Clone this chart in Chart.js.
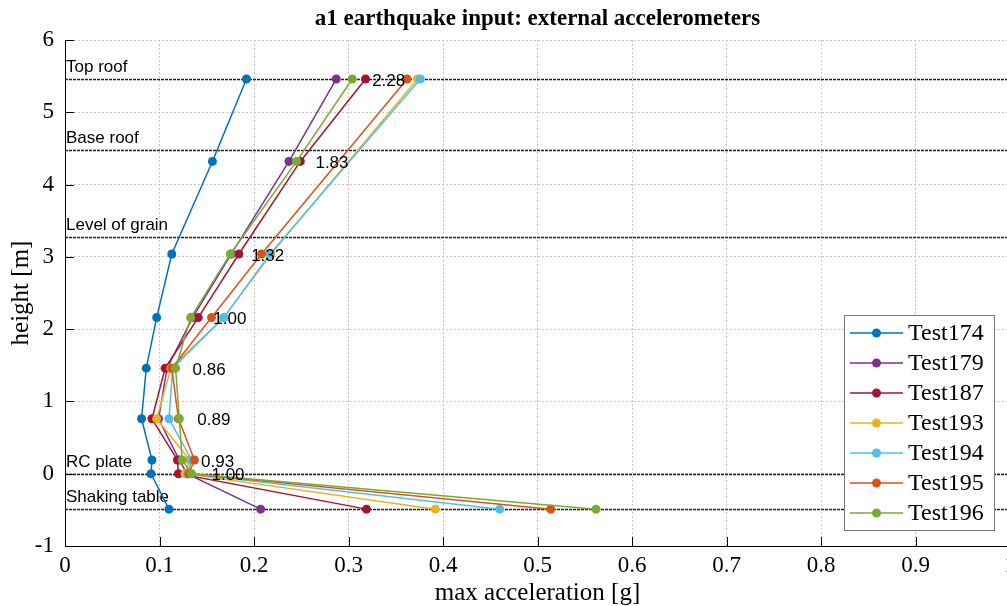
<!DOCTYPE html>
<html>
<head>
<meta charset="utf-8">
<script src="https://cdn.jsdelivr.net/npm/chart.js@4.4.1/dist/chart.umd.min.js"></script>
<style>
html, body { margin: 0; padding: 0; background: #fff; overflow: hidden; }
</style>
</head>
<body>
<canvas id="myChart" width="1030" height="606"></canvas>
<script>
// sensor heights [m], top to bottom
const heights = [5.46, 4.32, 3.04, 2.16, 1.46, 0.76, 0.19, 0, -0.49];

// peak accelerations [g] per test (null = sensor missing)
const test174 = [0.192, 0.156, 0.113, 0.097, 0.086, 0.081, 0.092, 0.091, 0.110];
const test179 = [0.287, 0.237, 0.176, 0.135, 0.108, 0.099, 0.121, 0.129, 0.207];
const test187 = [0.318, 0.249, 0.184, 0.141, 0.106, 0.092, 0.119, 0.120, 0.319];
const test193 = [0.373, null, 0.218, 0.168, 0.112, 0.097, 0.132, 0.127, 0.392];
const test194 = [0.376, null, 0.217, 0.168, 0.114, 0.110, 0.134, 0.130, 0.460];
const test195 = [0.362, null, 0.208, 0.155, 0.113, 0.120, 0.137, 0.131, 0.514];
const test196 = [0.304, 0.245, 0.175, 0.133, 0.117, 0.121, 0.124, 0.134, 0.562];

const testNames = ['Test174', 'Test179', 'Test187', 'Test193', 'Test194', 'Test195', 'Test196'];
const testValues = [test174, test179, test187, test193, test194, test195, test196];
const colors = ['#0072BD', '#7E2F8E', '#A2142F', '#EDB120', '#4DBEEE', '#D95319', '#77AC30'];

// structure levels
const levelNames = ['Top roof', 'Base roof', 'Level of grain', 'RC plate', 'Shaking table'];
const levelHeights = [5.46, 4.48, 3.28, 0, -0.49];

// amplification ratios written next to each level
const ratioText = ['2.28', '1.83', '1.32', '1.00', '0.86', '0.89', '0.93', '1.00'];
const ratioX = [0.325, 0.265, 0.197, 0.157, 0.135, 0.140, 0.144, 0.155];
const ratioY = [5.46, 4.32, 3.04, 2.16, 1.46, 0.76, 0.19, 0];

const serif = '"Liberation Serif", "Times New Roman", serif';
const sans = '"Liberation Sans", Arial, sans-serif';

const datasets = testNames.map((name, i) => ({
    label: name,
    data: heights.map((h, k) => ({x: testValues[i][k], y: h})).filter(p => p.x !== null),
    showLine: true,
    borderColor: colors[i],
    backgroundColor: colors[i],
    borderWidth: 1.5,
    pointRadius: 4.5,
    pointBorderWidth: 0,
    order: testNames.length - i
}));

const extras = {
    id: 'extras',
    beforeDatasetsDraw(chart) {
        const {ctx, chartArea: a, scales: {y}} = chart;
        ctx.save();
        ctx.strokeStyle = '#222';
        ctx.lineWidth = 1.4;
        ctx.setLineDash([3, 1]);
        levelHeights.forEach(h => {
            const py = Math.round(y.getPixelForValue(h)) + 0.5;
            ctx.beginPath();
            ctx.moveTo(a.left, py);
            ctx.lineTo(a.right, py);
            ctx.stroke();
        });
        ctx.setLineDash([]);
        ctx.fillStyle = '#000';
        ctx.font = '17px ' + sans;
        ctx.textBaseline = 'alphabetic';
        levelNames.forEach((n, i) => {
            ctx.fillText(n, a.left + 1, y.getPixelForValue(levelHeights[i]) - 7);
        });
        ctx.restore();
    },
    afterDatasetsDraw(chart) {
        const {ctx, scales: {x, y}} = chart;
        ctx.save();
        ctx.fillStyle = '#000';
        ctx.font = '17px ' + sans;
        ctx.textBaseline = 'middle';
        ratioText.forEach((t, i) => {
            ctx.fillText(t, x.getPixelForValue(ratioX[i]), y.getPixelForValue(ratioY[i]) + 2);
        });
        ctx.restore();
    },
    afterDraw(chart) {
        const {ctx, chartArea: a, scales: {x, y}} = chart;
        ctx.save();
        // inward tick marks
        ctx.strokeStyle = '#000';
        ctx.lineWidth = 1;
        x.ticks.forEach(t => {
            const px = Math.round(x.getPixelForValue(t.value)) + 0.5;
            ctx.beginPath(); ctx.moveTo(px, a.bottom); ctx.lineTo(px, a.bottom - 9); ctx.stroke();
        });
        y.ticks.forEach(t => {
            const py = Math.round(y.getPixelForValue(t.value)) + 0.5;
            ctx.beginPath(); ctx.moveTo(a.left, py); ctx.lineTo(a.left + 9, py); ctx.stroke();
        });

        // title
        ctx.fillStyle = '#000';
        ctx.font = 'bold 23px ' + serif;
        ctx.textAlign = 'center';
        ctx.textBaseline = 'middle';
        ctx.fillText('a1 earthquake input: external accelerometers', (a.left + a.right) / 2, 19);

        // legend box
        const lx = 844, ly = 315, lw = 150, lh = 215;
        ctx.fillStyle = '#fff';
        ctx.fillRect(lx, ly, lw, lh);
        ctx.strokeStyle = '#777';
        ctx.strokeRect(lx + 0.5, ly + 0.5, lw, lh);
        ctx.textAlign = 'left';
        ctx.font = '24px ' + serif;
        chart.data.datasets.forEach((ds, i) => {
            const ry = 333 + i * 30;
            ctx.strokeStyle = ds.borderColor;
            ctx.lineWidth = 1.5;
            ctx.beginPath(); ctx.moveTo(850, ry); ctx.lineTo(903, ry); ctx.stroke();
            ctx.fillStyle = ds.backgroundColor;
            ctx.beginPath(); ctx.arc(876.5, ry, 4.5, 0, Math.PI * 2); ctx.fill();
            ctx.fillStyle = '#000';
            ctx.fillText(ds.label, 908, ry + 1);
        });
        ctx.restore();
    }
};

const myc = document.getElementById('myChart').getContext('2d');
const myChart = new Chart(myc, {
    type: 'scatter',
    data: {datasets: datasets},
    options: {
        responsive: false,
        animation: false,
        devicePixelRatio: 1,
        layout: {padding: {top: 40, right: 20, left: 0, bottom: 0}},
        plugins: {
            legend: {display: false},
            title: {display: false},
            tooltip: {enabled: false}
        },
        scales: {
            x: {
                type: 'linear',
                min: 0,
                max: 1,
                afterFit: s => { s.height = 60; },
                ticks: {
                    stepSize: 0.1,
                    color: '#000',
                    padding: 6,
                    maxRotation: 0,
                    autoSkip: false,
                    font: {family: serif, size: 23},
                    callback: v => String(+v.toFixed(1))
                },
                grid: {color: '#c8c8c8', drawTicks: false},
                border: {color: '#000', width: 1, dash: [2, 2]},
                title: {
                    display: true,
                    text: 'max acceleration [g]',
                    color: '#000',
                    padding: 0,
                    font: {family: serif, size: 25, lineHeight: 1}
                }
            },
            y: {
                type: 'linear',
                min: -1,
                max: 6,
                afterFit: s => { s.width = 65; },
                ticks: {
                    stepSize: 1,
                    color: '#000',
                    padding: 11,
                    font: {family: serif, size: 23}
                },
                grid: {color: '#c8c8c8', drawTicks: false},
                border: {color: '#000', width: 1, dash: [2, 2]},
                title: {
                    display: true,
                    text: 'height [m]',
                    color: '#000',
                    padding: {top: 9, bottom: 0},
                    font: {family: serif, size: 25, lineHeight: 1}
                }
            }
        }
    },
    plugins: [extras]
});
</script>
</body>
</html>
